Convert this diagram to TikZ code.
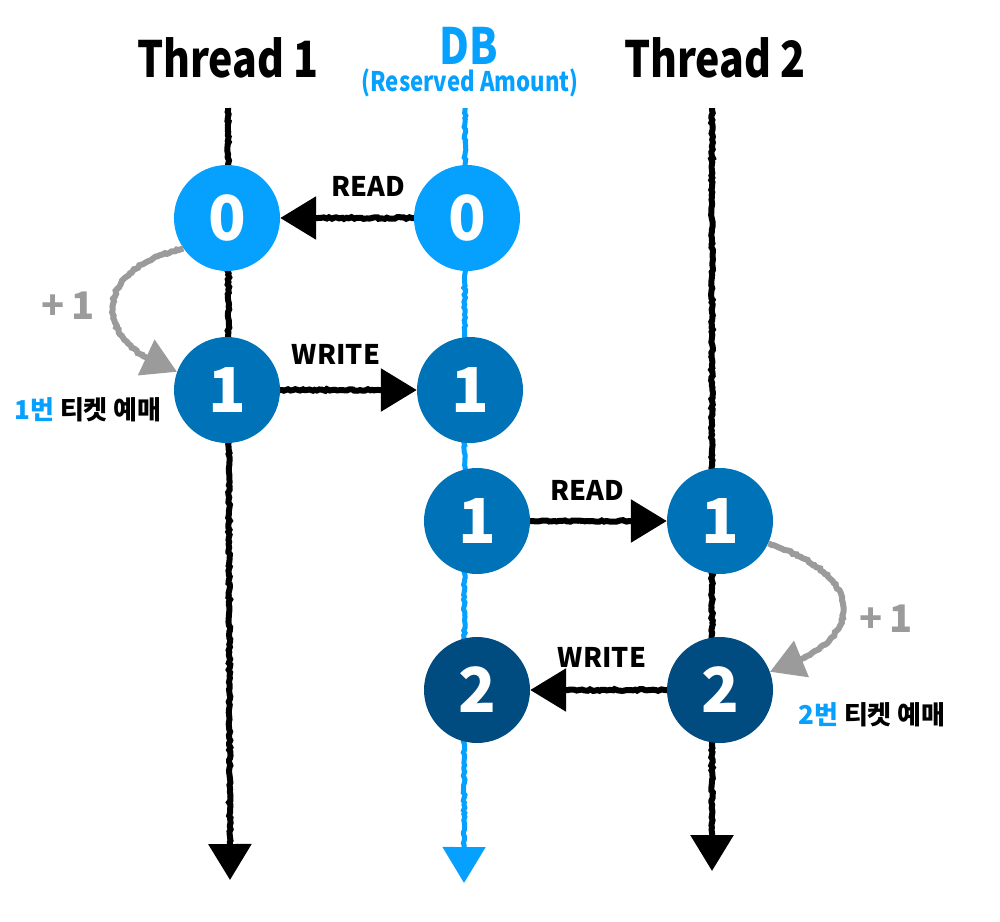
\documentclass[tikz,border=0pt]{standalone}
\usepackage{fontspec}
\setmainfont{Noto Sans CJK KR}
\newfontfamily\condfont{Noto Sans CJK KR}[FakeStretch=0.82]
\usetikzlibrary{arrows.meta,decorations.pathmorphing}
\definecolor{lb}{RGB}{6,160,255}
\definecolor{mb}{RGB}{0,115,184}
\definecolor{dkb}{RGB}{0,75,127}
\definecolor{gr}{RGB}{155,155,155}
\begin{document}
\begin{tikzpicture}[x=1pt,y=-1pt,
  rough/.style={decorate,decoration={random steps,segment length=2.5pt,amplitude=0.9pt,pre length=2pt,post length=38pt}},
  timeline/.style={rough,line width=6pt,-{Triangle[length=36pt,width=42pt]}},
  flow/.style={rough,line width=6pt,black,-{Triangle[length=36pt,width=42pt]}},
  incr/.style={rough,line width=6pt,gr,-{Triangle[length=34pt,width=38pt]}},
  circ/.style={circle,minimum size=106pt,inner sep=0pt,text=white,font=\bfseries\fontsize{62}{62}\selectfont},
  title/.style={font=\condfont\bfseries\fontsize{50}{50}\selectfont},
  lbl/.style={font=\bfseries\fontsize{27}{27}\selectfont},
  plus/.style={font=\bfseries\fontsize{38}{38}\selectfont,text=gr},
  kor/.style={font=\bfseries\fontsize{26}{26}\selectfont}
]
\useasboundingbox (0,0) rectangle (1000,921);

% titles
\node[title] (th1) at (228,58) {Thread 1};
\node[title,text=lb] (dbt) at (469,46) {DB};
\node[font=\condfont\bfseries\fontsize{27}{27}\selectfont,text=lb] (dbs) at (470,83) {(Reserved Amount)};
\node[title] (th2) at (715,58) {Thread 2};

% timeline endpoints
\coordinate (t1top) at (228,108);
\coordinate (t1bot) at (230,880);
\coordinate (dbtop) at (465,108);
\coordinate (dbbot) at (464,883);
\coordinate (t2top) at (712,108);
\coordinate (t2bot) at (712,871);

\draw[timeline,black] (t1top) -- (t1bot);
\draw[timeline,lb,line width=5pt] (dbtop) -- (dbbot);
\draw[timeline,black] (t2top) -- (t2bot);

% circles
\node[circ,fill=lb] (a0) at (227,218) {0};
\node[circ,fill=mb] (a1) at (227,390) {1};
\node[circ,fill=lb] (d0) at (467,218) {0};
\node[circ,fill=mb] (d1) at (470,390) {1};
\node[circ,fill=mb] (d2) at (477,521) {1};
\node[circ,fill=dkb] (d3) at (477,690) {2};
\node[circ,fill=mb] (b1) at (720,521) {1};
\node[circ,fill=dkb] (b2) at (720,690) {2};

% data flow
\draw[flow] (d0.west) -- (a0.east);
\draw[flow] (a1.east) -- (d1.west);
\draw[flow] (d2.east) -- (b1.west);
\draw[flow] (b2.west) -- (d3.east);

\node[lbl] (r1) at (368,186) {READ};
\node[lbl] (w1) at (336,354) {WRITE};
\node[lbl] (r2) at (587,490) {READ};
\node[lbl] (w2) at (602,657) {WRITE};

% increments
\draw[incr] (a0.215) .. controls (88,270) and (92,345) .. (a1.160);
\draw[incr] (b1.335) .. controls (865,575) and (872,640) .. (b2.20);
\node[plus] (p1) at (68,306) {+\,1};
\node[plus] (p2) at (886,619) {+\,1};

\node[kor] (k1) at (88,410) {\textcolor{lb}{1번} 티켓 예매};
\node[kor] (k2) at (872,715) {\textcolor{lb}{2번} 티켓 예매};
\end{tikzpicture}
\end{document}
